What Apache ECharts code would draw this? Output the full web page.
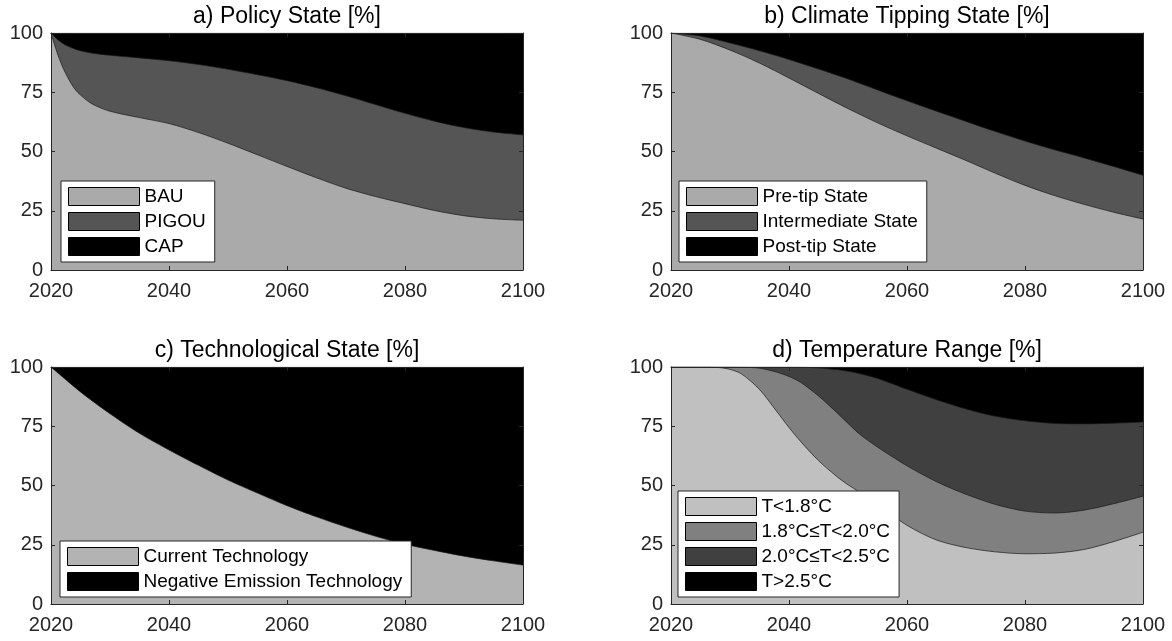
<!DOCTYPE html>
<html>
<head>
<meta charset="utf-8">
<script src="https://cdn.jsdelivr.net/npm/echarts@6/dist/echarts.min.js"></script>
<style>
  html, body { margin: 0; padding: 0; background: #fff; }
  #chart { width: 1172px; height: 641px; }
</style>
</head>
<body>
<div id="chart"></div>
<script>
// ---------- data (cumulative boundaries, %) ----------
const xTicks = [2020, 2040, 2060, 2080, 2100];
const yTicks = [0, 25, 50, 75, 100];

// a) Policy State
const yearsA = [2020,2021,2022,2023,2024,2025,2027,2030,2035,2040,2045,2050,2055,2060,2065,2070,2075,2080,2085,2090,2095,2100];
const bauA      = [100,92,85.5,80.5,76.5,73.8,70,67,64.3,61.8,58,53.5,48.6,43.7,38.9,34.5,31,28,25.1,22.9,21.6,21];
const pigouTopA = [100,97.5,95.6,94.3,93.3,92.5,91.5,90.6,89.5,88.3,86.7,84.7,82.4,79.9,76.9,73.5,69.8,66.1,62.8,60.1,58.2,57];
const capTopA   = [100,100,100,100,100,100,100,100,100,100,100,100,100,100,100,100,100,100,100,100,100,100];

// b) Climate Tipping State
const yearsB = [2020,2025,2030,2035,2040,2045,2050,2055,2060,2065,2070,2075,2080,2085,2090,2095,2100];
const preTipB  = [100,97.3,92.8,87.3,81,74.5,68.1,62.1,56.6,51.4,46.2,40.8,35.7,31.4,27.7,24.4,21.5];
const interTopB= [100,98.7,95.8,92.5,88.8,84.8,80.6,76,71.4,67,62.7,58.4,54.4,50.7,47.3,43.7,40];
const postTopB = [100,100,100,100,100,100,100,100,100,100,100,100,100,100,100,100,100];

// c) Technological State
const yearsC = [2020,2025,2030,2035,2040,2045,2050,2055,2060,2065,2070,2075,2080,2085,2090,2095,2100];
const currentC = [100,89.5,80.3,72,65,58.5,52.3,46.8,41.5,36.8,32.5,28.6,25.2,22.6,20.2,18.2,16.4];
const netTopC  = [100,100,100,100,100,100,100,100,100,100,100,100,100,100,100,100,100];

// d) Temperature Range
const yearsD = [2020,2025,2028,2030,2032,2035,2038,2040,2042,2045,2048,2050,2052,2055,2060,2065,2070,2075,2080,2085,2090,2095,2100];
const tBelow18 = [100,100,99.8,99,97,90.5,81,74.5,68.5,60.5,54,50.3,47.2,42,33.2,27,23.8,22,21.2,21.5,23,26.3,30.3];
const tBelow20 = [100,100,100,100,99.9,99.5,97.8,96,93.5,87.8,81,76.2,71.6,66.2,58.3,51.6,46.3,42,39.2,38.4,39.6,42.3,45.5];
const tBelow25 = [100,100,100,100,100,100,100,100,99.9,99.6,98.9,98.2,97.2,95.2,90.6,86.2,82.3,79.2,77.3,76.2,76,76.3,76.8];
const tAll     = [100,100,100,100,100,100,100,100,100,100,100,100,100,100,100,100,100,100,100,100,100,100,100];

// ---------- layout ----------
const FONT = "'Liberation Sans', Arial, Helvetica, sans-serif";
const AX = '#262626';
const panels = [
  { left: 51,  top: 33,  title: 'a) Policy State [%]', years: yearsA,
    layers: [ ['CAP', capTopA, '#000000'], ['PIGOU', pigouTopA, '#555555'], ['BAU', bauA, '#aaaaaa'] ],
    legend: ['BAU','PIGOU','CAP'], legLeft: 61, legBottom: 379 },
  { left: 671, top: 33,  title: 'b) Climate Tipping State [%]', years: yearsB,
    layers: [ ['Post-tip State', postTopB, '#000000'], ['Intermediate State', interTopB, '#555555'], ['Pre-tip State', preTipB, '#aaaaaa'] ],
    legend: ['Pre-tip State','Intermediate State','Post-tip State'], legLeft: 679, legBottom: 379 },
  { left: 51,  top: 367, title: 'c) Technological State [%]', years: yearsC,
    layers: [ ['Negative Emission Technology', netTopC, '#000000'], ['Current Technology', currentC, '#b3b3b3'] ],
    legend: ['Current Technology','Negative Emission Technology'], legLeft: 60, legBottom: 44 },
  { left: 671, top: 367, title: 'd) Temperature Range [%]', years: yearsD,
    layers: [ ['T>2.5°C', tAll, '#000000'], ['2.0°C≤T<2.5°C', tBelow25, '#404040'], ['1.8°C≤T<2.0°C', tBelow20, '#808080'], ['T<1.8°C', tBelow18, '#c0c0c0'] ],
    legend: ['T<1.8°C','1.8°C≤T<2.0°C','2.0°C≤T<2.5°C','T>2.5°C'], legLeft: 678, legBottom: 44 }
];
const W = 472, H = 237;

const option = {
  animation: false,
  backgroundColor: '#ffffff',
  textStyle: { fontFamily: FONT },
  title: [], grid: [], xAxis: [], yAxis: [], legend: [], series: []
};

panels.forEach((p, i) => {
  option.grid.push({ left: p.left, top: p.top, width: W, height: H, containLabel: false });
  option.title.push({
    text: p.title, left: p.left + W / 2, top: p.top - 28, textAlign: 'center', padding: 0,
    textStyle: { fontFamily: FONT, fontSize: 23, fontWeight: 'normal', color: '#000' }
  });
  const baseX = { type: 'value', gridIndex: i, min: xTicks[0], max: xTicks[xTicks.length - 1], interval: 20, z: 10,
    axisLine: { show: true, onZero: false, lineStyle: { color: AX, width: 1 } },
    axisTick: { show: true, inside: true, length: 4, lineStyle: { color: AX } },
    splitLine: { show: false } };
  const baseY = { type: 'value', gridIndex: i, min: yTicks[0], max: yTicks[yTicks.length - 1], interval: 25, z: 10,
    axisLine: { show: true, onZero: false, lineStyle: { color: AX, width: 1 } },
    axisTick: { show: true, inside: true, length: 4, lineStyle: { color: AX } },
    splitLine: { show: false } };
  option.xAxis.push(Object.assign({}, baseX, { position: 'bottom',
    axisLabel: { show: true, margin: 11, fontSize: 20, color: AX, fontFamily: FONT, showMinLabel: true, showMaxLabel: true,
      formatter: v => String(v) } }));
  option.xAxis.push(Object.assign({}, baseX, { position: 'top', axisLabel: { show: false } }));
  option.yAxis.push(Object.assign({}, baseY, { position: 'left',
    axisLabel: { show: true, margin: 8, fontSize: 20, color: AX, fontFamily: FONT, showMinLabel: true, showMaxLabel: true,
      formatter: v => String(v) } }));
  option.yAxis.push(Object.assign({}, baseY, { position: 'right', axisLabel: { show: false } }));

  p.layers.forEach((L, k) => {
    option.series.push({
      name: L[0], type: 'line', xAxisIndex: 2 * i, yAxisIndex: 2 * i,
      data: p.years.map((y, j) => [y, L[1][j]]),
      smooth: 0.3, showSymbol: false, symbol: 'none', z: 2 + k,
      itemStyle: { color: L[2] },
      lineStyle: { color: '#1a1a1a', width: 0.7 },
      areaStyle: { color: L[2], opacity: 1, origin: 'start' },
      emphasis: { disabled: true }, silent: true
    });
  });

  option.legend.push({
    orient: 'vertical', left: p.legLeft, bottom: p.legBottom,
    data: p.legend, icon: 'rect', itemWidth: 71, itemHeight: 18, itemGap: 6,
    padding: [6, 9, 6, 7], backgroundColor: '#ffffff', borderColor: AX, borderWidth: 1, borderRadius: 0,
    itemStyle: { borderColor: '#000', borderWidth: 1 },
    textStyle: { fontFamily: FONT, fontSize: 19, color: '#000' },
    selectedMode: false, z: 20
  });
});

const chart = echarts.init(document.getElementById('chart'), null, { renderer: 'canvas' });
chart.setOption(option);
</script>
</body>
</html>
